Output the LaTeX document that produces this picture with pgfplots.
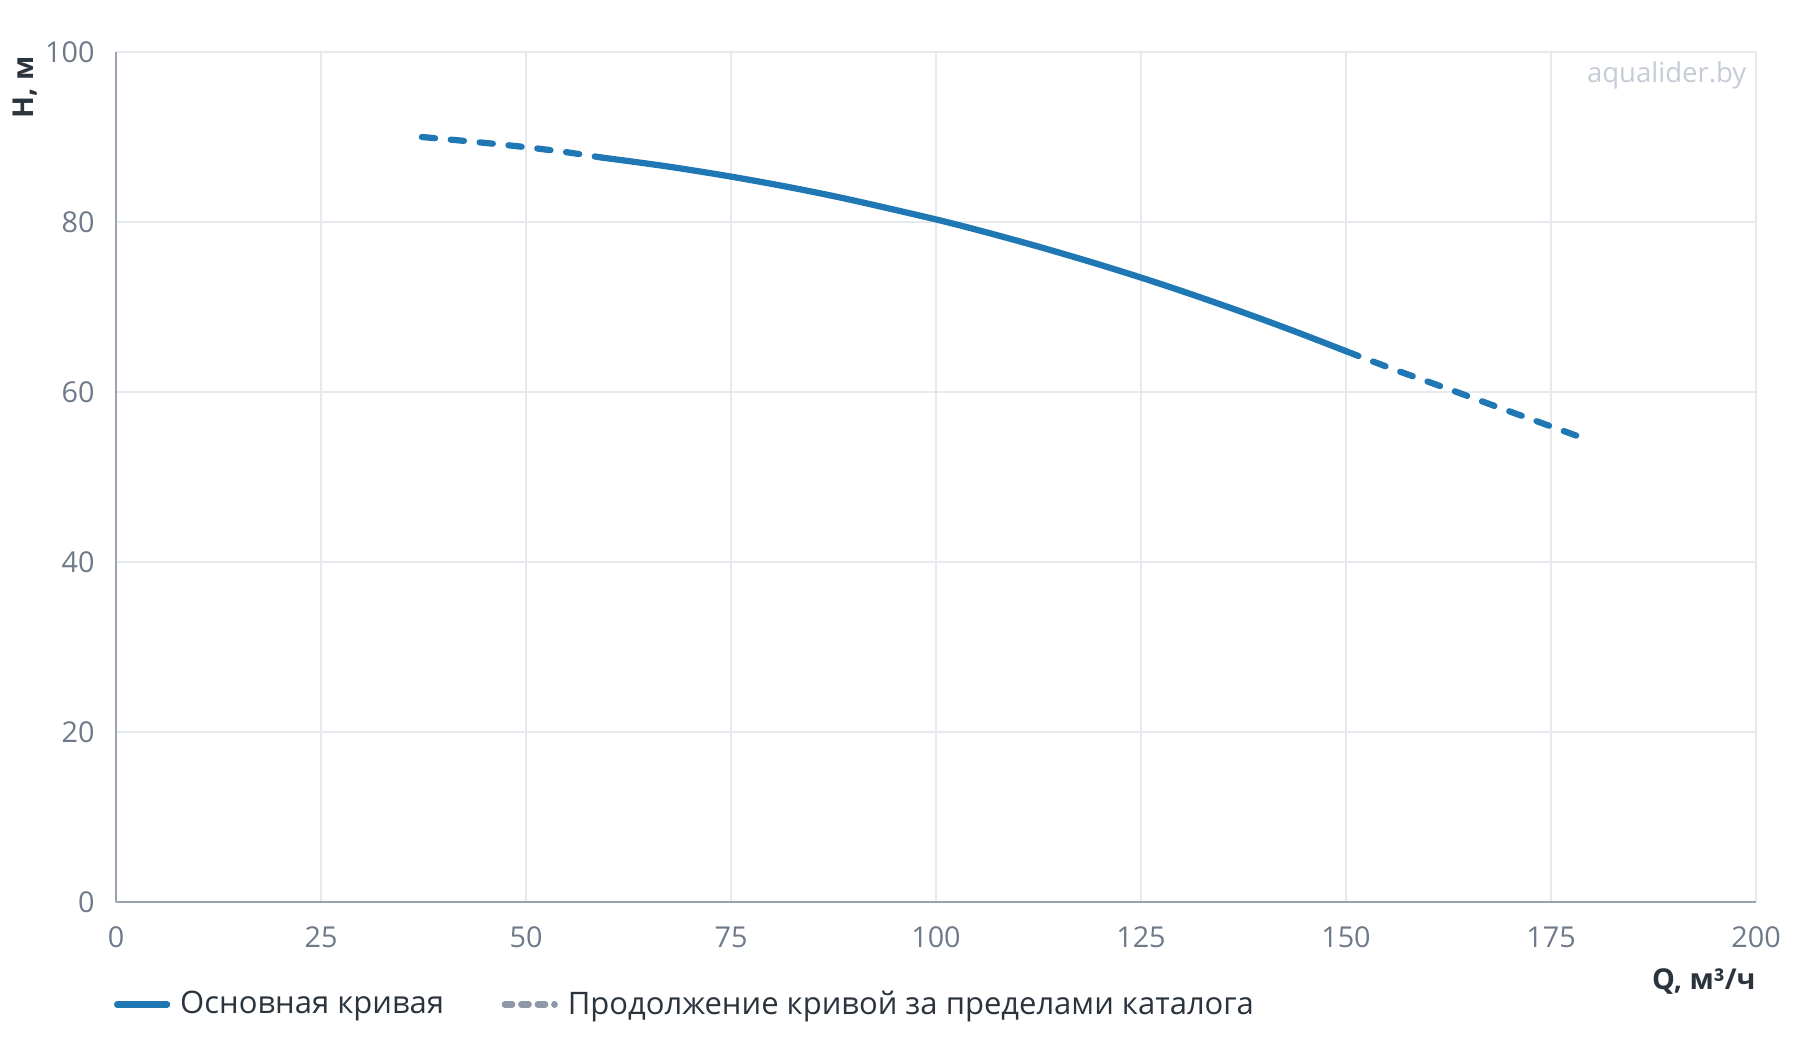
\documentclass[border=0pt]{standalone}
\usepackage{fontspec}
\setmainfont{Open Sans}
\usepackage{pgfplots}
\pgfplotsset{compat=1.18}
\definecolor{curve}{HTML}{1F77B4}
\definecolor{gridc}{HTML}{E6E9EE}
\definecolor{axisc}{HTML}{9AA4B1}
\definecolor{tickc}{HTML}{6E7A89}
\definecolor{labc}{HTML}{2B333D}
\definecolor{wmc}{HTML}{C5CCD5}
\definecolor{legg}{HTML}{8E99A8}
\begin{document}
\begin{tikzpicture}[font=\fontsize{12bp}{14bp}\selectfont]
\useasboundingbox (0,0) rectangle (720bp,416bp);
\begin{axis}[
  at={(46.4bp,55.2bp)}, anchor=south west,
  scale only axis, width=656bp, height=340bp,
  xmin=0, xmax=200, ymin=0, ymax=100,
  xtick={0,25,...,200}, ytick={0,20,...,100},
  grid=major, major grid style={gridc, line width=0.6bp},
  axis x line*=bottom, axis y line*=left,
  x axis line style={axisc, line width=0.8bp, -},
  y axis line style={axisc, line width=0.8bp, -},
  major tick length=0pt, tick style={draw=none},
  /pgf/number format/assume math mode=true,
  ticklabel style={text=tickc, font=\fontsize{11.5bp}{14bp}\selectfont},
  xticklabel style={anchor=north, inner sep=0pt, yshift=-9.6bp},
  yticklabel style={anchor=east, inner sep=0pt, xshift=-8.4bp},
  xlabel={\textbf{Q, м³/ч}},
  xlabel style={at={([yshift=-26.4bp]rel axis cs:1,0)}, anchor=north east, inner sep=0pt, text=labc, font=\fontsize{11.5bp}{14bp}\selectfont},
  ylabel={\textbf{H, м}},
  ylabel style={at={([xshift=-36.4bp,yshift=-1.5bp]rel axis cs:0,1)}, anchor=east, inner sep=0pt, text=labc, font=\fontsize{11.5bp}{14bp}\selectfont},
  legend columns=2,
  legend style={at={([xshift=-1bp,yshift=-41bp]rel axis cs:0,0)}, anchor=west, draw=none, fill=none, inner sep=0pt,
    nodes={inner sep=0pt, text=labc, font=\fontsize{12.4bp}{14bp}\selectfont},
    /tikz/every odd column/.append style={column sep=4bp},
    /tikz/every even column/.append style={column sep=23bp}},
  legend cell align=left,
  legend image code/.code={\draw[#1] (0bp,0bp) -- (20bp,0bp);},
  clip=false,
]
\addlegendimage{curve, line width=2.5bp, line cap=round}
\addlegendentry{Основная кривая}
\addlegendimage{legg, line width=2.5bp, line cap=round, dash pattern=on 3bp off 3.6bp}
\addlegendentry{Продолжение кривой за пределами каталога}

\addplot[curve, line width=2.5bp, line cap=round, dash pattern=on 5.3bp off 6.3bp, smooth, forget plot]
  coordinates {(37.3,90.0) (44,89.4) (50,88.8) (55,88.2) (59.1,87.6)};
\addplot[curve, line width=2.5bp, line cap=round, smooth, forget plot]
  coordinates {(59.1,87.6) (67,86.57) (75,85.34) (82.5,84.02) (89.6,82.61) (100,80.3) (106,78.82) (112.5,77.1) (119,75.26) (125,73.46) (131,71.54) (137.5,69.35) (144,67.04) (150,64.8)};
\addplot[curve, line width=2.5bp, line cap=round, dash pattern=on 5.3bp off 6.3bp, smooth, forget plot]
  coordinates {(150,64.8) (156,62.6) (162.5,60.35) (169,58.05) (175,55.95) (178.7,54.65)};

\node[anchor=east, inner sep=0pt, text=wmc, font=\fontsize{11bp}{14bp}\selectfont] at ([xshift=-3.7bp,yshift=-9.2bp]rel axis cs:1,1) {aqualider.by};
\end{axis}
\end{tikzpicture}
\end{document}
